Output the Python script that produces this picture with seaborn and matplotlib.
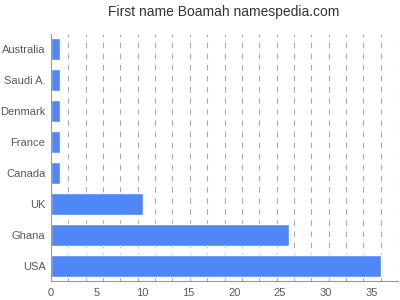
import matplotlib
matplotlib.use("Agg")
import matplotlib.pyplot as plt
import seaborn as sns
import numpy as np
import pandas as pd

countries = ["Australia", "Saudi A.", "Denmark", "France", "Canada", "UK", "Ghana", "USA"]
counts = [1, 1, 1, 1, 1, 10, 26, 36]
xticks = [0, 5, 10, 15, 20, 25, 30, 35]

sns.set_style("white")
plt.rcParams['font.family'] = ['Liberation Sans', 'DejaVu Sans']

df = pd.DataFrame({"country": countries, "count": counts})

fig = plt.figure(figsize=(4, 3), dpi=100)
ax = fig.add_axes([0.1275, 0.0617, 0.8675, 0.8266])

xmax = max(counts) * 20 / 19
ax.set_xlim(0, xmax)
grid = np.linspace(0, xmax, 21)[1:]
for g in grid:
    ax.axvline(g, color="#aaaaaa", linestyle=(0, (5, 5)), linewidth=0.8, zorder=0)

sns.barplot(data=df, y="country", x="count", orient="h", color="#4f87f8",
            saturation=1, width=0.69, ax=ax, zorder=2)

ax.set_xlim(0, xmax)
ax.set_ylim(7.5, -0.5)
ax.set_xticks(xticks)
ax.set_xticks(grid, minor=True)
ax.tick_params(axis="x", which="major", length=0, labelsize=8, colors="#5a5a5a", pad=5)
ax.tick_params(axis="x", which="minor", length=4, color="#999999", width=0.8)
ax.tick_params(axis="y", length=3, color="#999999", labelsize=8, labelcolor="#5a5a5a", pad=1)
ax.set_xlabel("")
ax.set_ylabel("")
for s in ["top", "right"]:
    ax.spines[s].set_visible(False)
for s in ["left", "bottom"]:
    ax.spines[s].set_color("#999999")
    ax.spines[s].set_linewidth(0.8)

fig.text(0.56, 0.96, "First name Boamah namespedia.com", ha="center", va="center",
         fontsize=10, color="#333333")

fig.savefig("out.png", dpi=100)
